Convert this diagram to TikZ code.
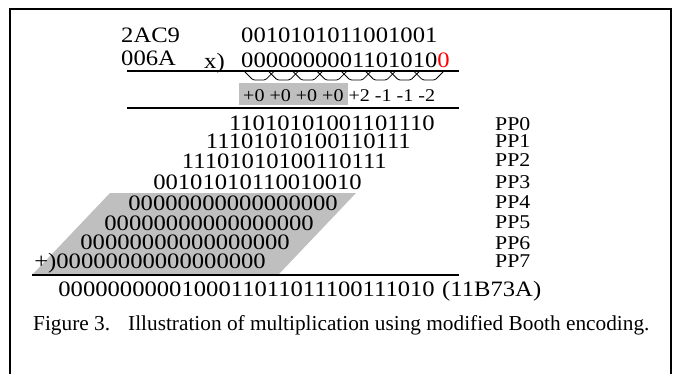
\documentclass[tikz,border=0pt]{standalone}
\usepackage{fontspec}
\setmainfont{Liberation Serif}[FakeStretch=1.12]
\newfontfamily\capfont{Liberation Serif}
\begin{document}
\begin{tikzpicture}[x=1bp,y=-1bp,
  num/.style={inner sep=0pt, font=\fontsize{22bp}{24bp}\selectfont},
  lab/.style={inner sep=0pt, font=\fontsize{19.5bp}{21bp}\selectfont, anchor=base west},
  booth/.style={inner sep=0pt, font=\fontsize{17.9bp}{20bp}\selectfont, anchor=base west},
  capt/.style={inner sep=0pt, font=\capfont\fontsize{21.3bp}{23bp}\selectfont, anchor=base west},
  rule/.style={line width=1.6bp},
  brace/.style={line width=0.8bp},
  boxgray/.style={fill=black!25}]
\useasboundingbox (0,0) rectangle (674,374);
% frame
\coordinate (f1) at (10,374);
\coordinate (f2) at (10,9);
\coordinate (f3) at (671,9);
\coordinate (f4) at (671,374);
\draw[line width=1.3bp] (f1) -- (f2) -- (f3) -- (f4);
% grey shapes
\path[boxgray] (239,83) rectangle (348,105);
\path[boxgray] (110,193) -- (356,193) -- (279,274) -- (33,274) -- cycle;
% operands
\node[num, anchor=base west] (hxa) at (121,42) {2AC9};
\node[num, anchor=base west] (hxb) at (121,65) {006A};
\node[num, anchor=base west] (mc) at (241,42) {0010101011001001};
\node[num, anchor=base west] (xs) at (204,68) {x)};
\node[num, anchor=base west] (mp) at (241,67) {0000000001101010\textcolor{red}{0}};
% rule 1
\coordinate (r1a) at (127,71);
\coordinate (r1b) at (459,71);
\draw[rule] (r1a) -- (r1b);
% booth groupings
\foreach \k in {0,...,7}{
  \pgfmathsetmacro{\xl}{241+2*\k*12.12+3}
  \pgfmathsetmacro{\xr}{241+(2*\k+3)*12.12-3}
  \draw[brace, rounded corners=1.5bp] (\xl,71) -- (\xl+9,80) -- (\xr-9,80) -- (\xr,71);
}
% booth digits
\node[booth] (bd) at (243,101) {+0 +0 +0 +0 +2 -1 -1 -2};
% rule 2
\coordinate (r2a) at (127,108);
\coordinate (r2b) at (459,108);
\draw[rule] (r2a) -- (r2b);
% partial products
\node[num, anchor=base east] (pp0) at (435,130) {11010101001101110};
\node[num, anchor=base east] (pp1) at (411,148) {11101010100110111};
\node[num, anchor=base east] (pp2) at (387,168) {11101010100110111};
\node[num, anchor=base east] (pp3) at (362,189) {00101010110010010};
\node[num, anchor=base east] (pp4) at (338,210) {00000000000000000};
\node[num, anchor=base east] (pp5) at (314,230) {00000000000000000};
\node[num, anchor=base east] (pp6) at (290,249) {00000000000000000};
\node[num, anchor=base east] (pp7) at (266,268) {+)00000000000000000};
% labels
\node[lab] (lb0) at (495,130) {PP0};
\node[lab] (lb1) at (495,147) {PP1};
\node[lab] (lb2) at (495,166) {PP2};
\node[lab] (lb3) at (495,188) {PP3};
\node[lab] (lb4) at (495,208) {PP4};
\node[lab] (lb5) at (495,228) {PP5};
\node[lab] (lb6) at (495,249) {PP6};
\node[lab] (lb7) at (495,267) {PP7};
% rule 3
\coordinate (r3a) at (32,275);
\coordinate (r3b) at (459,275);
\draw[rule] (r3a) -- (r3b);
% result
\node[num, anchor=base east] (res) at (435,296) {0000000000100011011011100111010};
\node[num, anchor=base west] (reshex) at (442,296) {(11B73A)};
% caption
\node[capt] (cap) at (33,330) {Figure 3.};
\node[capt] (capb) at (128,330) {Illustration of multiplication using modified Booth encoding.};
\end{tikzpicture}
\end{document}
